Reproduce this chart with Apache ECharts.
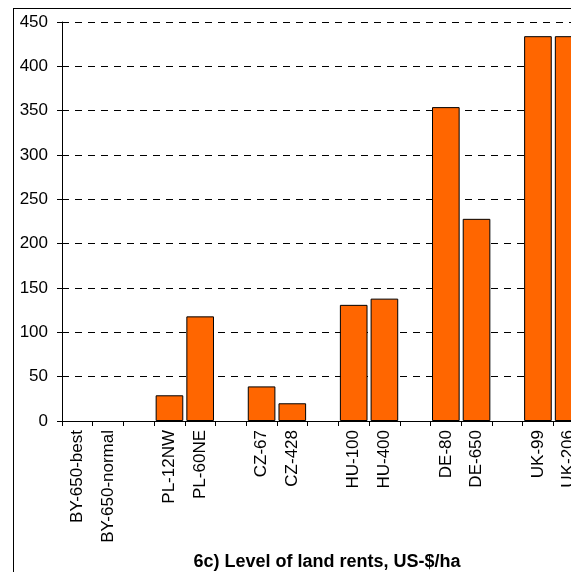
<!DOCTYPE html>
<html><head><meta charset="utf-8">
<script src="https://cdn.jsdelivr.net/npm/echarts@6/dist/echarts.min.js"></script>
<style>html,body{margin:0;padding:0;background:#fff}#c{width:571px;height:572px}</style>
</head><body><div id="c"></div>
<script>
const categories = ['BY-650-best','BY-650-normal',' ','PL-12NW','PL-60NE','  ','CZ-67','CZ-428','   ','HU-100','HU-400','    ','DE-80','DE-650','     ','UK-99','UK-206'];
const rents = [null, null, null, 29, 118, null, 39, 20, null, 131, 138, null, 354, 228, null, 434, 434];
const yTicks = {min: 0, max: 450, interval: 50};
const titleText = '6c) Level of land rents, US-$/ha';

const chart = echarts.init(document.getElementById('c'));
chart.setOption({
  animation: false,
  title: {text: titleText, left: 322, top: 548, textAlign: 'center',
    textStyle: {fontFamily: 'Liberation Sans', fontWeight: 'bold', fontSize: 18, color: '#000'}},
  grid: {left: 62, top: 22, width: 522, height: 399, containLabel: false, outerBoundsMode: 'none'},
  xAxis: {type: 'category', data: categories,
    axisLine: {lineStyle: {color: '#000', width: 1}},
    axisTick: {show: true, length: 5, alignWithLabel: false, lineStyle: {color: '#000'}},
    axisLabel: {rotate: 90, interval: 0, margin: 9, fontFamily: 'Liberation Sans', fontSize: 17, color: '#000'},
    splitLine: {show: false}},
  yAxis: {type: 'value', min: yTicks.min, max: yTicks.max, interval: yTicks.interval,
    axisLine: {show: true, lineStyle: {color: '#000', width: 1}},
    axisTick: {show: true, length: 5, lineStyle: {color: '#000'}},
    axisLabel: {margin: 14, fontFamily: 'Liberation Sans', fontSize: 17, color: '#000'},
    splitLine: {show: true, lineStyle: {color: '#000', type: [7, 6], width: 1}}},
  series: [{type: 'bar', data: rents, barCategoryGap: '10%',
    itemStyle: {color: '#FF6600', borderColor: '#000', borderWidth: 1}}],
  graphic: [
    {type: 'line', shape: {x1: 13, y1: 8.5, x2: 571, y2: 8.5}, style: {stroke: '#000', lineWidth: 1}},
    {type: 'line', shape: {x1: 13.5, y1: 8, x2: 13.5, y2: 572}, style: {stroke: '#000', lineWidth: 1}}
  ]
});
</script></body></html>
